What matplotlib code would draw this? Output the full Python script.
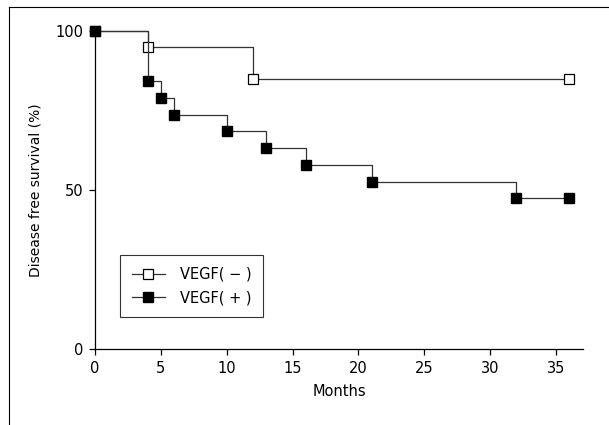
import matplotlib
matplotlib.use("Agg")
import matplotlib.pyplot as plt
from matplotlib.lines import Line2D

# Kaplan-Meier curves
months_neg = [0, 4, 12, 36]
surv_neg = [100, 95, 85, 85]

months_pos = [0, 4, 5, 6, 10, 13, 16, 21, 32, 36]
surv_pos = [100, 84.2, 78.9, 73.7, 68.4, 63.2, 57.9, 52.6, 47.4, 47.4]

xticks = [0, 5, 10, 15, 20, 25, 30, 35]
yticks = [0, 50, 100]

plt.rcParams['font.family'] = ['DejaVu Sans']

W, H = 609, 425
fig = plt.figure(figsize=(W / 100, H / 100), dpi=100)

# axes box in pixels: x 95..583, y 31..349
ax = fig.add_axes([95 / W, 1 - 349 / H, (583 - 95) / W, (349 - 31) / H])

ax.step(months_neg, surv_neg, where='post', color='#333333', lw=0.9,
        marker='s', markersize=6.5, markerfacecolor='white',
        markeredgecolor='black', markeredgewidth=0.9,
        label='VEGF( \u2212 )', clip_on=False, zorder=3)
ax.step(months_pos, surv_pos, where='post', color='#333333', lw=0.9,
        marker='s', markersize=6.5, markerfacecolor='black',
        markeredgecolor='black', label='VEGF( + )', clip_on=False, zorder=4)

ax.set_xlim(0, 37.05)
ax.set_ylim(0, 100)
ax.set_xticks(xticks)
ax.set_yticks(yticks)
ax.spines['top'].set_visible(False)
ax.spines['right'].set_visible(False)
for s in ['left', 'bottom']:
    ax.spines[s].set_linewidth(0.9)
ax.tick_params(direction='out', length=4.5, width=0.9, labelsize=10.5, pad=4)

ax.set_xlabel('Months', fontsize=10.5, labelpad=6)
ax.set_ylabel('Disease free survival (%)', fontsize=10, labelpad=9)

leg = ax.legend(loc='lower left', bbox_to_anchor=(0.051, 0.1), fontsize=10.5,
                frameon=True, fancybox=False, edgecolor='black',
                handlelength=2.3, handletextpad=1.0, labelspacing=0.6,
                borderpad=0.8, borderaxespad=0)
leg.get_frame().set_linewidth(0.8)

# thin page border on top and left
fig.add_artist(Line2D([9 / W, 1], [1 - 7 / H, 1 - 7 / H], color='black', lw=0.8))
fig.add_artist(Line2D([9 / W, 9 / W], [0, 1 - 7 / H], color='black', lw=0.8))

fig.savefig('out.png', dpi=100)
